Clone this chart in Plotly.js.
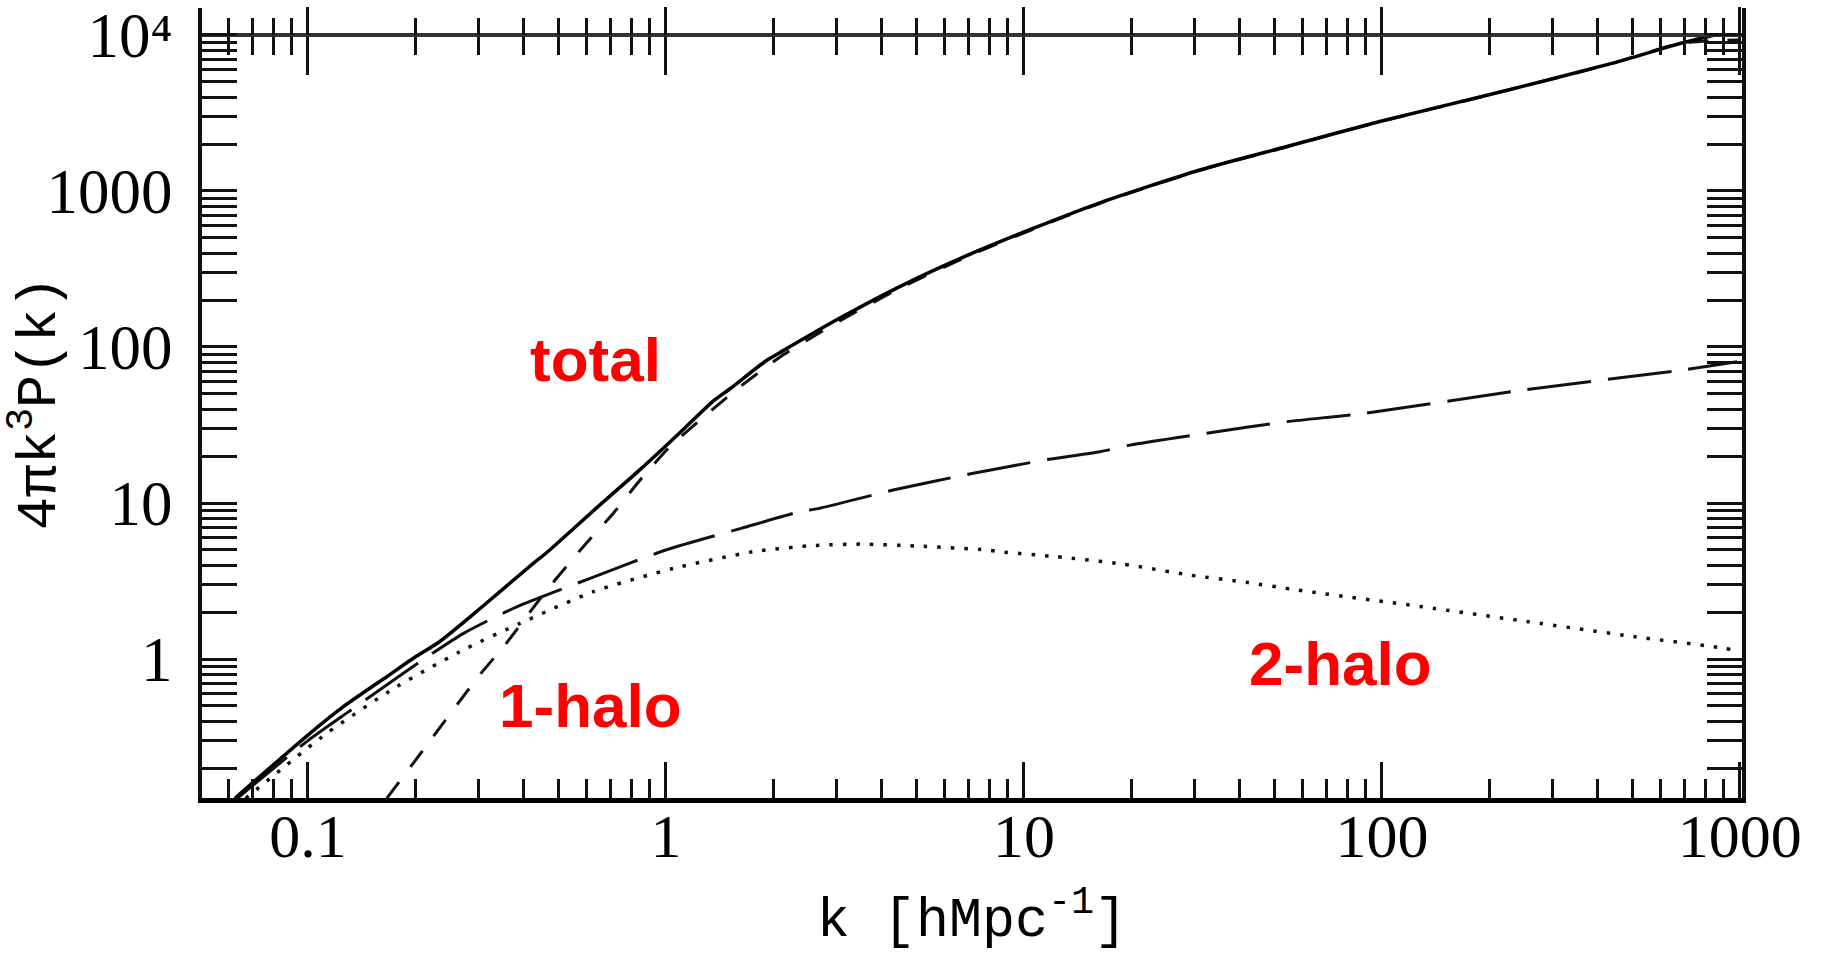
<!DOCTYPE html>
<html>
<head>
<meta charset="utf-8">
<script src="https://cdn.plot.ly/plotly-3.0.1.min.js"></script>
<style>html,body{margin:0;padding:0;background:#fff;}#chart{width:1829px;height:953px;}</style>
</head>
<body>
<div id="chart"></div>
<script>
// ---- data (k in h/Mpc, y = 4*pi*k^3*P(k)) ----
var totalK = [0.0625, 0.1013, 0.1256, 0.166, 0.197, 0.234, 0.302, 0.426, 0.464, 0.64, 0.845, 1.09, 1.355, 1.51, 1.91, 2.08, 2.93, 4.5, 6.92, 10.6, 16.3, 31, 54, 98, 207, 439, 684, 850];
var totalP = [0.128, 0.334, 0.495, 0.77, 1.01, 1.30, 2.10, 4.1, 4.8, 9.3, 16.3, 28, 45, 54, 82, 92, 145, 244, 385, 575, 840, 1364, 1923, 2780, 4230, 6580, 8850, 10000];

var oneHaloK = [0.166, 0.215, 0.299, 0.358, 0.465, 0.594, 0.713, 0.846, 1.026, 1.3, 1.6, 2.08, 2.93, 4.5, 6.92, 10.6, 16.3, 31, 54, 98, 207, 439, 684, 1000];
var oneHaloP = [0.128, 0.281, 0.77, 1.26, 2.77, 5.4, 8.6, 14, 23, 37, 55, 86, 139, 238, 379, 568, 834, 1357, 1915, 2770, 4220, 6560, 8830, 9300];

var twoHaloK = [0.067, 0.1128, 0.177, 0.277, 0.391, 0.626, 1.05, 1.75, 2.47, 2.75, 3.5, 5.0, 7.86, 8.57, 12.3, 18.9, 29.1, 41.9, 57.8, 130, 258, 509, 908, 1000];
var twoHaloP = [0.128, 0.334, 0.665, 1.17, 1.69, 2.70, 3.81, 4.87, 5.3, 5.38, 5.45, 5.3, 5.0, 4.87, 4.53, 4.06, 3.45, 3.10, 2.77, 2.16, 1.73, 1.39, 1.17, 1.12];

var linearK = [0.0635, 0.1, 0.13, 0.2, 0.272, 0.383, 0.614, 1.0, 1.63, 2.37, 2.66, 4.31, 7.22, 11.8, 16.3, 19.8, 32.4, 54.2, 89.8, 248, 684, 982];
var linearP = [0.128, 0.3, 0.46, 0.92, 1.46, 2.16, 3.29, 5.0, 6.9, 8.8, 9.2, 12.1, 15.5, 19.1, 21.3, 23.5, 28, 33.2, 37.6, 53, 71, 80.5];

var xTickVals = [0.1, 1, 10, 100, 1000];
var xTickText = ['0.1', '1', '10', '100', '1000'];
var yTickVals = [1, 10, 100, 1000, 10000];
var yTickText = ['1', '10', '100', '1000', '10⁴'];

var labelText = ['total', '1-halo', '2-halo'];
var labelK = [0.634, 0.614, 76.4];
var labelP = [82.6, 0.5, 0.94];

// ---- layout settings ----
var xRange = [-1.296, 3.006];
var yRange = [-0.891, 4.173];
var topLinePos = (Math.log10(yTickVals[yTickVals.length - 1]) - yRange[0]) / (yRange[1] - yRange[0]);

var serif = 'Liberation Serif, Times New Roman, serif';
var mono = 'Liberation Mono, Courier New, monospace';

var traces = [
  {x: twoHaloK, y: twoHaloP, mode: 'lines', line: {color: '#111', width: 3.5, dash: '3.5px,10px', shape: 'spline', smoothing: 0.6}, hoverinfo: 'skip'},
  {x: linearK, y: linearP, mode: 'lines', line: {color: '#111', width: 3, dash: '64px,17px', shape: 'spline', smoothing: 0.6}, hoverinfo: 'skip'},
  {x: oneHaloK, y: oneHaloP, mode: 'lines', line: {color: '#111', width: 3, dash: '20px,19px', shape: 'spline', smoothing: 0.6}, hoverinfo: 'skip'},
  {x: totalK, y: totalP, mode: 'lines', line: {color: '#000', width: 3.5, shape: 'spline', smoothing: 0.6}, hoverinfo: 'skip'},
  // invisible carriers for the two overlaid top axes
  {x: totalK, y: totalP, xaxis: 'x2', mode: 'lines', line: {width: 0}, opacity: 0, hoverinfo: 'skip'},
  {x: totalK, y: totalP, xaxis: 'x3', mode: 'lines', line: {width: 0}, opacity: 0, hoverinfo: 'skip'}
];

var annotations = labelText.map(function (t, i) {
  return {
    text: t, x: Math.log10(labelK[i]), y: Math.log10(labelP[i]), xref: 'x', yref: 'y',
    showarrow: false, xanchor: 'center', yanchor: 'middle',
    font: {family: 'Liberation Sans, Arial, sans-serif', size: 62, color: '#ff0000', weight: 700}
  };
});

var topAxisBase = {
  type: 'log', range: xRange, overlaying: 'x', anchor: 'free', position: topLinePos, side: 'top',
  tickmode: 'array', tickvals: xTickVals, showticklabels: false,
  tickcolor: '#111', tickwidth: 3, showgrid: false, zeroline: false, fixedrange: true
};

var layout = {
  width: 1829, height: 953,
  margin: {l: 202, r: 87, t: 8, b: 155, pad: 0},
  paper_bgcolor: '#fff', plot_bgcolor: '#fff',
  showlegend: false,
  font: {family: serif, color: '#000'},
  xaxis: {
    type: 'log', range: xRange, fixedrange: true,
    showline: true, linecolor: '#000', linewidth: 5, mirror: false,
    ticks: 'inside', ticklen: 36, tickwidth: 3, tickcolor: '#111',
    tickmode: 'array', tickvals: xTickVals, ticktext: xTickText,
    tickfont: {family: serif, size: 62, color: '#000'},
    ticklabelstandoff: -20,
    minor: {ticks: 'inside', ticklen: 19, tickwidth: 3, tickcolor: '#111', dtick: 'D1', showgrid: false},
    showgrid: false, zeroline: false,
    title: {text: 'k [hMpc<sup>-1</sup>]', font: {family: mono, size: 55, color: '#000'}, standoff: 56}
  },
  xaxis2: Object.assign({}, topAxisBase, {
    showline: true, linecolor: '#333', linewidth: 4.5,
    ticks: 'inside', ticklen: 38,
    minor: {ticks: 'inside', ticklen: 18, tickwidth: 3, tickcolor: '#111', dtick: 'D1', showgrid: false}
  }),
  xaxis3: Object.assign({}, topAxisBase, {
    showline: false,
    ticks: 'outside', ticklen: 28,
    minor: {ticks: 'outside', ticklen: 17, tickwidth: 3, tickcolor: '#111', dtick: 'D1', showgrid: false}
  }),
  yaxis: {
    type: 'log', range: yRange, fixedrange: true,
    showline: true, linecolor: '#111', linewidth: 4, mirror: 'allticks',
    ticks: 'inside', ticklen: 35, tickwidth: 3, tickcolor: '#111',
    tickmode: 'array', tickvals: yTickVals, ticktext: yTickText,
    tickfont: {family: serif, size: 63, color: '#000'},
    ticklabelstandoff: 13, ticklabeloverflow: 'allow',
    minor: {ticks: 'inside', ticklen: 21, tickwidth: 3, tickcolor: '#111', dtick: 'D1', showgrid: false},
    showgrid: false, zeroline: false,
    title: {text: '4πk<sup>3</sup>P(k)', font: {family: mono, size: 55, color: '#000'}, standoff: 25}
  },
  annotations: annotations
};

Plotly.newPlot('chart', traces, layout, {displayModeBar: false, staticPlot: true});
</script>
</body>
</html>
